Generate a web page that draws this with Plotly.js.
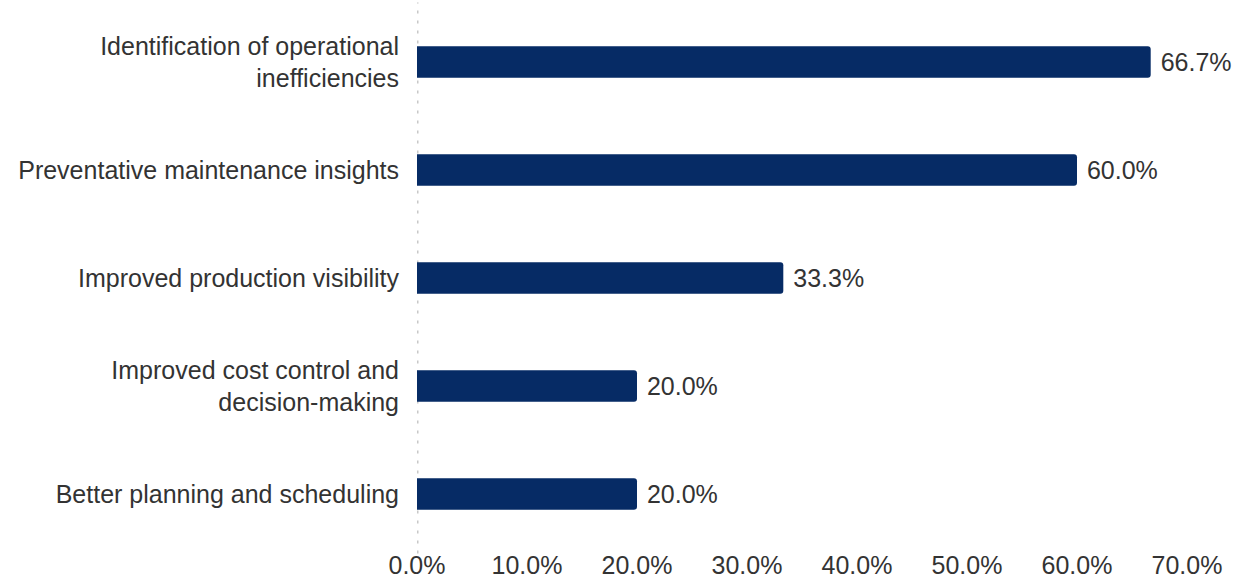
<!DOCTYPE html>
<html>
<head>
<meta charset="utf-8">
<script src="https://cdn.plot.ly/plotly-3.0.1.min.js"></script>
<style>html,body{margin:0;padding:0;background:#fff;}#chart{width:1241px;height:581px;}</style>
</head>
<body>
<div id="chart"></div>
<script>
const categories = [
  "Identification of operational<br>inefficiencies",
  "Preventative maintenance insights",
  "Improved production visibility",
  "Improved cost control and<br>decision-making",
  "Better planning and scheduling"
];
const values = [66.7, 60.0, 33.3, 20.0, 20.0];
const tickValues = [0, 10, 20, 30, 40, 50, 60, 70];

const font = "Liberation Sans, Arial, sans-serif";
const trace = {
  type: "bar",
  orientation: "h",
  y: categories,
  x: values,
  width: 0.29,
  marker: {color: "#062b65", cornerradius: 3},
  text: values.map(v => "\u00a0" + v.toFixed(1) + "%"),
  textposition: "outside",
  textfont: {family: font, size: 25, color: "#333333"},
  cliponaxis: false,
  hoverinfo: "skip"
};
const layout = {
  width: 1241, height: 581,
  margin: {l: 417, r: 54, t: 8, b: 33},
  paper_bgcolor: "#ffffff", plot_bgcolor: "#ffffff",
  showlegend: false,
  xaxis: {
    range: [0, 70],
    tickvals: tickValues,
    ticktext: tickValues.map(v => v.toFixed(1) + "%"),
    showgrid: false, zeroline: false, showline: false,
    ticks: "", ticklen: 0,
    tickfont: {family: font, size: 25, color: "#333333"}
  },
  yaxis: {
    autorange: "reversed",
    showgrid: false, zeroline: false, showline: false,
    ticks: "", ticklabelstandoff: 17,
    tickfont: {family: font, size: 25, color: "#333333"}
  },
  shapes: [{
    type: "line", xref: "x", yref: "paper",
    x0: 0, x1: 0, y0: -0.01, y1: 1.01,
    line: {color: "#c8c8c8", width: 3, dash: "3px,7px"},
    layer: "below"
  }]
};
Plotly.newPlot("chart", [trace], layout, {displayModeBar: false, staticPlot: true});
</script>
</body>
</html>
